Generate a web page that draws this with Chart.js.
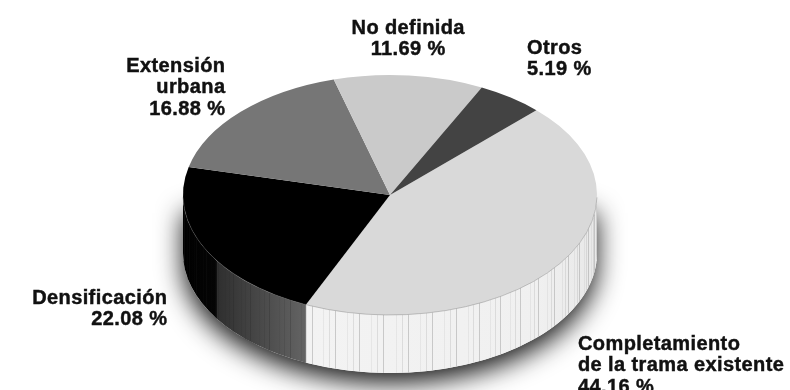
<!DOCTYPE html>
<html>
<head>
<meta charset="utf-8">
<script src="https://cdn.jsdelivr.net/npm/chart.js@4.4.0/dist/chart.umd.min.js"></script>
<style>
  html, body { margin: 0; padding: 0; background: #ffffff; }
  canvas { display: block; }
</style>
</head>
<body>
<canvas id="c" width="790" height="390"></canvas>
<script>
// Categories (each entry is the label split into lines) and their shares in percent
const categories = [
  ['Completamiento', 'de la trama existente'],
  ['Densificación'],
  ['Extensión', 'urbana'],
  ['No definida'],
  ['Otros']
];
const shares = [44.16, 22.08, 16.88, 11.69, 5.19];

// Colours of the top face of each slice
const topColors = ['#d9d9d9', '#000000', '#767676', '#cacaca', '#434343'];

// Shading of the visible rim of each slice (horizontal gradient across the rim)
const wallStyles = [
  { stops: [[0, '#f3f3f3'], [0.8, '#f0f0f0'], [1, '#e8e8e8']], seam: [160, 160, 160], seamAlpha: 0.5 },
  { stops: [[0, '#000000'], [0.27, '#050505'], [0.28, '#2f2f2f'], [1, '#646464']], seam: [30, 30, 30], seamAlpha: 0.22 },
  { stops: [[0, '#555555'], [1, '#555555']], seam: [0, 0, 0], seamAlpha: 0.2 },
  { stops: [[0, '#aaaaaa'], [1, '#aaaaaa']], seam: [0, 0, 0], seamAlpha: 0.2 },
  { stops: [[0, '#333333'], [1, '#333333']], seam: [0, 0, 0], seamAlpha: 0.2 }
];

// Projected disc: centre, radii of the elliptical face and rim height
const disc = { cx: 390, cy: 195, rx: 207, ry: 120, depth: 58 };

// Where each label block sits (first baseline) and how it is aligned
const labelPos = [
  { x: 578, y: 350, align: 'left' },
  { x: 167, y: 304, align: 'right' },
  { x: 225, y: 72,  align: 'right' },
  { x: 408, y: 34,  align: 'center' },
  { x: 527, y: 54,  align: 'left' }
];
const lineHeight = 21.3;

function rimPath(ctx, a1, a2) {
  const { cx, cy, rx, ry, depth } = disc;
  ctx.beginPath();
  ctx.ellipse(cx, cy, rx, ry, 0, a1, a2, false);
  ctx.lineTo(cx + rx * Math.cos(a2), cy + depth + ry * Math.sin(a2));
  ctx.ellipse(cx, cy + depth, rx, ry, 0, a2, a1, true);
  ctx.closePath();
}

function drawRim(ctx, a1, a2, style) {
  const { cx, cy, rx, ry, depth } = disc;
  ctx.save();
  rimPath(ctx, a1, a2);
  const xLeft = cx + rx * Math.cos(a2);
  const xRight = cx + rx * Math.cos(a1);
  const g = ctx.createLinearGradient(xLeft, 0, xRight, 0);
  style.stops.forEach(([o, c]) => g.addColorStop(o, c));
  ctx.fillStyle = g;
  ctx.fill();
  ctx.clip();
  // facet seams of the faceted cylinder, not all equally visible
  const step = 1.7 * Math.PI / 180;
  let i = 0;
  for (let t = Math.ceil(a1 / step) * step; t < a2; t += step, i++) {
    const w = (i * 5 + (i >> 2)) % 7;
    if (w > 3) continue;
    const alpha = style.seamAlpha * (0.3 + 0.7 * w / 3);
    const x = Math.round(cx + rx * Math.cos(t)) + 0.5;
    const yTop = cy + ry * Math.sin(t) - 2;
    ctx.strokeStyle = `rgba(${style.seam[0]},${style.seam[1]},${style.seam[2]},${alpha.toFixed(3)})`;
    ctx.lineWidth = 1;
    ctx.beginPath();
    ctx.moveTo(x, yTop);
    ctx.lineTo(x, yTop + depth + 4);
    ctx.stroke();
  }
  ctx.restore();
}

const disc3d = {
  id: 'disc3d',
  beforeDatasetsDraw(chart) {
    const ctx = chart.ctx;
    const arcs = chart.getDatasetMeta(0).data;
    const { cx, cy, rx, ry, depth } = disc;

    // soft shadow cast by the lower part of the disc
    ctx.save();
    ctx.shadowColor = 'rgba(0,0,0,0.9)';
    ctx.shadowBlur = 26;
    ctx.shadowOffsetY = 10;
    ctx.fillStyle = '#ffffff';
    ctx.beginPath();
    ctx.ellipse(cx, cy + depth, rx, ry, 0, 0, 2 * Math.PI, false);
    ctx.rect(cx - rx, cy + 8, 2 * rx, depth);
    ctx.fill('nonzero');
    ctx.restore();

    // rim of every slice that faces the viewer
    arcs.forEach((arc, i) => {
      const s = arc.startAngle, e = arc.endAngle;
      for (let k = -1; k <= 2; k++) {
        const base = 2 * Math.PI * k;
        const a1 = Math.max(s, base);
        const a2 = Math.min(e, base + Math.PI);
        if (a2 > a1) drawRim(ctx, a1 - base, a2 - base, wallStyles[i]);
      }
    });

    // tilt: map the pie's circle onto the elliptical top face
    const a = arcs[0];
    ctx.save();
    ctx.translate(cx, cy);
    ctx.scale(rx / a.outerRadius, ry / a.outerRadius);
    ctx.translate(-a.x, -a.y);
  },
  afterDatasetsDraw(chart) {
    const ctx = chart.ctx;
    ctx.restore();
    const { cx, cy, rx, ry } = disc;

    // fine edge between top face and rim
    ctx.save();
    ctx.strokeStyle = 'rgba(110,110,110,0.45)';
    ctx.lineWidth = 0.8;
    ctx.beginPath();
    ctx.ellipse(cx, cy, rx, ry, 0, 0.02, Math.PI - 0.02, false);
    ctx.stroke();
    ctx.restore();

    // labels with their percentages
    ctx.save();
    ctx.font = 'bold 20px "Liberation Sans", Arial, Helvetica, sans-serif';
    try { ctx.letterSpacing = '0.4px'; } catch (err) {}
    ctx.fillStyle = '#111111';
    ctx.strokeStyle = '#111111';
    ctx.lineWidth = 0.45;
    ctx.textBaseline = 'alphabetic';
    categories.forEach((cat, i) => {
      const lines = cat.concat([shares[i].toFixed(2) + ' %']);
      const p = labelPos[i];
      ctx.textAlign = p.align;
      const dx = p.align === 'right' ? 0.4 : (p.align === 'center' ? 0.2 : 0);
      lines.forEach((t, j) => {
        ctx.fillText(t, p.x + dx, p.y + j * lineHeight);
        ctx.strokeText(t, p.x + dx, p.y + j * lineHeight);
      });
    });
    ctx.restore();
  }
};

new Chart(document.getElementById('c'), {
  type: 'pie',
  data: {
    labels: categories,
    datasets: [{
      data: shares,
      backgroundColor: topColors,
      borderWidth: 0
    }]
  },
  options: {
    responsive: false,
    animation: false,
    rotation: 45,
    events: [],
    layout: { padding: 0 },
    plugins: {
      legend: { display: false },
      tooltip: { enabled: false }
    }
  },
  plugins: [disc3d]
});
</script>
</body>
</html>
